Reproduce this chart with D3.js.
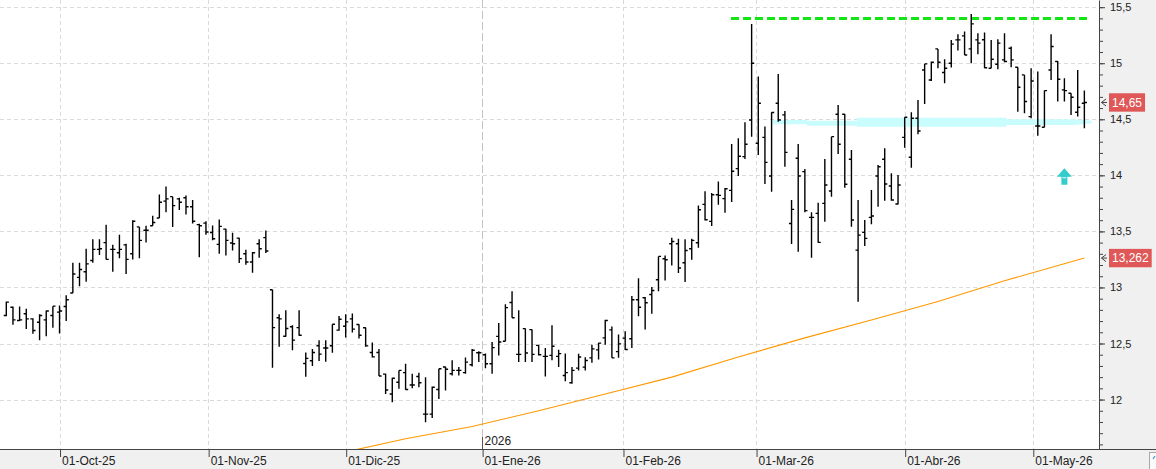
<!DOCTYPE html>
<html lang="es">
<head>
  <meta charset="UTF-8">
  <title>Barras OHLC</title>
  <script src="https://d3js.org/d3.v7.min.js"></script>
  <style>
    body {
      margin: 0;
      background: #fff;
      font-family: "Liberation Sans", Arial, sans-serif;
    }

    svg {
      display: block;
    }

    .axis text {
      fill: #222;
    }
  </style>
</head>
<body>
  <svg id="chart"></svg>
  <script>
    // trading days shown on the chart
    const dates = [
      "2025-09-19", "2025-09-22", "2025-09-23", "2025-09-24", "2025-09-25", "2025-09-26", "2025-09-29", "2025-09-30",
      "2025-10-01", "2025-10-02", "2025-10-03", "2025-10-06", "2025-10-07", "2025-10-08", "2025-10-09", "2025-10-10",
      "2025-10-13", "2025-10-14", "2025-10-15", "2025-10-16", "2025-10-17", "2025-10-20", "2025-10-21", "2025-10-22",
      "2025-10-23", "2025-10-24", "2025-10-27", "2025-10-28", "2025-10-29", "2025-10-30", "2025-10-31",
      "2025-11-03", "2025-11-04", "2025-11-05", "2025-11-06", "2025-11-07", "2025-11-10", "2025-11-11", "2025-11-12",
      "2025-11-13", "2025-11-14", "2025-11-17", "2025-11-18", "2025-11-19", "2025-11-20", "2025-11-21", "2025-11-24",
      "2025-11-25", "2025-11-26", "2025-11-27", "2025-11-28",
      "2025-12-01", "2025-12-02", "2025-12-03", "2025-12-04", "2025-12-05", "2025-12-08", "2025-12-09", "2025-12-10",
      "2025-12-11", "2025-12-12", "2025-12-15", "2025-12-16", "2025-12-17", "2025-12-18", "2025-12-19", "2025-12-22",
      "2025-12-23", "2025-12-24", "2025-12-29", "2025-12-30", "2025-12-31",
      "2026-01-02", "2026-01-05", "2026-01-06", "2026-01-07", "2026-01-08", "2026-01-09", "2026-01-12", "2026-01-13",
      "2026-01-14", "2026-01-15", "2026-01-16", "2026-01-19", "2026-01-20", "2026-01-21", "2026-01-22", "2026-01-23",
      "2026-01-26", "2026-01-27", "2026-01-28", "2026-01-29", "2026-01-30",
      "2026-02-02", "2026-02-03", "2026-02-04", "2026-02-05", "2026-02-06", "2026-02-09", "2026-02-10", "2026-02-11",
      "2026-02-12", "2026-02-13", "2026-02-16", "2026-02-17", "2026-02-18", "2026-02-19", "2026-02-20", "2026-02-23",
      "2026-02-24", "2026-02-25", "2026-02-26", "2026-02-27",
      "2026-03-02", "2026-03-03", "2026-03-04", "2026-03-05", "2026-03-06", "2026-03-09", "2026-03-10", "2026-03-11",
      "2026-03-12", "2026-03-13", "2026-03-16", "2026-03-17", "2026-03-18", "2026-03-19", "2026-03-20", "2026-03-23",
      "2026-03-24", "2026-03-25", "2026-03-26", "2026-03-27", "2026-03-30", "2026-03-31",
      "2026-04-01", "2026-04-02", "2026-04-07", "2026-04-08", "2026-04-09", "2026-04-10", "2026-04-13", "2026-04-14",
      "2026-04-15", "2026-04-16", "2026-04-17", "2026-04-20", "2026-04-21", "2026-04-22", "2026-04-23", "2026-04-24",
      "2026-04-27", "2026-04-28", "2026-04-29", "2026-04-30",
      "2026-05-04", "2026-05-05", "2026-05-06", "2026-05-07", "2026-05-08", "2026-05-11", "2026-05-12", "2026-05-13"
    ];

    const opens = [
      12.75, 12.824, 12.705, 12.765, 12.72, 12.69, 12.711, 12.75, 12.78, 12.83, 12.95, 13.09, 13.14, 13.24, 13.34, 13.40,
      13.34, 13.31, 13.38, 13.30, 13.54, 13.51, 13.55, 13.62, 13.77, 13.81, 13.79, 13.80, 13.72, 13.56, 13.574, 13.49,
      13.384, 13.52, 13.396, 13.44, 13.30, 13.227, 13.39, 13.444, 12.98, 12.73, 12.565, 12.65, 12.642, 12.322, 12.346, 12.48,
      12.46, 12.48, 12.619, 12.654, 12.72, 12.669, 12.64, 12.42, 12.42, 12.227, 12.05, 12.155, 12.24, 12.13, 12.206, 11.87,
      11.87, 12.09, 12.29, 12.23, 12.26, 12.24, 12.31, 12.418, 12.40, 12.32, 12.564, 12.52, 12.866, 12.403, 12.633, 12.624,
      12.483, 12.385, 12.394, 12.385, 12.215, 12.15, 12.28, 12.289, 12.372, 12.443, 12.55, 12.622, 12.428, 12.548, 12.542, 12.89,
      12.908, 12.937, 13.069, 13.256, 13.39, 13.39, 13.22, 13.345, 13.399, 13.741, 13.589, 13.827, 13.792, 13.866, 14.06, 14.167,
      14.494, 14.286, 14.339, 13.994, 14.643, 14.539, 13.571, 14.152, 14.033, 13.625, 13.661, 13.75, 13.86, 14.545, 14.545, 14.143,
      13.333, 13.491, 13.625, 13.994, 14.143, 13.905, 13.744, 14.339, 14.161, 14.509, 14.94, 14.851, 15.128, 14.917, 15.00, 15.208,
      15.244, 15.128, 15.208, 15.21, 14.955, 14.991, 15.03, 15.134, 14.964, 14.896, 14.524, 14.44, 14.429, 14.94, 15.015, 14.762,
      14.732, 14.563, 14.643
    ];

    const highs = [
      12.875, 12.83, 12.83, 12.81, 12.726, 12.76, 12.795, 12.833, 12.84, 12.93, 13.22, 13.22, 13.345, 13.43, 13.43, 13.56,
      13.38, 13.47, 13.39, 13.60, 13.54, 13.55, 13.64, 13.83, 13.90, 13.81, 13.80, 13.82, 13.78, 13.568, 13.59, 13.553,
      13.607, 13.524, 13.488, 13.444, 13.337, 13.316, 13.429, 13.509, 12.98, 12.761, 12.797, 12.663, 12.797, 12.42, 12.45, 12.53,
      12.53, 12.672, 12.746, 12.761, 12.767, 12.672, 12.642, 12.51, 12.45, 12.233, 12.194, 12.26, 12.32, 12.23, 12.24, 12.20,
      12.116, 12.275, 12.296, 12.35, 12.29, 12.376, 12.45, 12.43, 12.41, 12.513, 12.684, 12.85, 12.967, 12.797, 12.633, 12.624,
      12.49, 12.46, 12.663, 12.445, 12.41, 12.29, 12.408, 12.378, 12.49, 12.506, 12.711, 12.652, 12.58, 12.61, 12.923, 13.083,
      12.914, 13.003, 13.277, 13.286, 13.443, 13.435, 13.429, 13.435, 13.732, 13.857, 13.842, 13.946, 13.887, 14.28, 14.33, 14.473,
      15.351, 14.881, 14.435, 14.563, 14.905, 14.574, 13.78, 14.28, 14.057, 13.67, 13.756, 14.146, 14.345, 14.628, 14.548, 14.226,
      13.78, 13.601, 13.869, 14.092, 14.241, 14.018, 14.003, 14.518, 14.563, 14.673, 14.994, 15.015, 15.128, 15.036, 15.208, 15.259,
      15.283, 15.44, 15.268, 15.274, 15.208, 15.214, 15.268, 15.149, 14.964, 14.896, 14.955, 14.926, 14.756, 15.259, 15.021, 14.866,
      14.732, 14.94, 14.756
    ];

    const lows = [
      12.744, 12.667, 12.70, 12.63, 12.586, 12.53, 12.565, 12.64, 12.59, 12.70, 12.95, 13.01, 13.05, 13.22, 13.29, 13.25,
      13.14, 13.26, 13.12, 13.25, 13.26, 13.40, 13.55, 13.62, 13.67, 13.54, 13.69, 13.65, 13.57, 13.27, 13.47, 13.42,
      13.30, 13.286, 13.33, 13.218, 13.203, 13.132, 13.266, 13.307, 12.284, 12.47, 12.56, 12.44, 12.57, 12.203, 12.30, 12.343,
      12.337, 12.417, 12.613, 12.553, 12.598, 12.545, 12.47, 12.376, 12.21, 12.049, 11.976, 12.096, 12.087, 12.10, 12.11, 11.797,
      11.836, 12.006, 12.08, 12.215, 12.215, 12.23, 12.296, 12.334, 12.28, 12.23, 12.394, 12.52, 12.73, 12.334, 12.334, 12.334,
      12.394, 12.206, 12.35, 12.29, 12.164, 12.14, 12.26, 12.26, 12.328, 12.357, 12.49, 12.372, 12.372, 12.443, 12.461, 12.744,
      12.625, 12.765, 12.967, 13.063, 13.196, 13.128, 13.048, 13.247, 13.354, 13.598, 13.548, 13.738, 13.667, 13.762, 13.994, 14.146,
      14.345, 14.182, 13.923, 13.854, 14.479, 14.077, 13.387, 13.318, 13.67, 13.265, 13.399, 13.586, 13.81, 14.19, 13.89, 13.542,
      12.872, 13.369, 13.563, 13.72, 13.774, 13.774, 13.741, 14.247, 14.068, 14.366, 14.637, 14.842, 14.955, 14.821, 14.961, 15.113,
      15.074, 15.00, 15.08, 14.955, 14.955, 14.946, 15.009, 14.964, 14.568, 14.554, 14.509, 14.354, 14.429, 14.851, 14.658, 14.658,
      14.539, 14.524, 14.42
    ];

    const closes = [
      12.869, 12.711, 12.711, 12.72, 12.616, 12.75, 12.79, 12.833, 12.79, 12.89, 13.12, 13.16, 13.21, 13.34, 13.345, 13.25,
      13.34, 13.34, 13.25, 13.59, 13.42, 13.51, 13.58, 13.76, 13.79, 13.73, 13.76, 13.72, 13.59, 13.55, 13.494, 13.435,
      13.545, 13.42, 13.39, 13.257, 13.227, 13.31, 13.345, 13.325, 12.642, 12.72, 12.634, 12.53, 12.574, 12.367, 12.42, 12.405,
      12.46, 12.672, 12.717, 12.693, 12.628, 12.574, 12.479, 12.381, 12.21, 12.085, 12.19, 12.26, 12.09, 12.13, 12.15, 11.87,
      12.11, 12.275, 12.27, 12.26, 12.26, 12.334, 12.44, 12.418, 12.32, 12.463, 12.513, 12.82, 12.73, 12.403, 12.415, 12.403,
      12.40, 12.385, 12.475, 12.41, 12.24, 12.26, 12.38, 12.348, 12.452, 12.503, 12.705, 12.372, 12.497, 12.446, 12.89, 12.824,
      12.863, 12.973, 13.277, 13.247, 13.41, 13.173, 13.33, 13.42, 13.693, 13.604, 13.827, 13.821, 13.881, 14.036, 14.17, 14.277,
      15.00, 14.643, 14.116, 14.56, 14.494, 14.205, 13.696, 13.994, 13.685, 13.625, 13.402, 13.914, 14.345, 14.277, 13.92, 13.601,
      13.467, 13.438, 13.637, 14.077, 13.923, 13.78, 13.914, 14.518, 14.509, 14.396, 14.994, 15.009, 15.009, 14.955, 15.17, 15.208,
      15.074, 15.351, 15.179, 14.96, 15.036, 15.179, 15.015, 15.03, 14.786, 14.658, 14.842, 14.44, 14.756, 15.149, 14.857, 14.756,
      14.696, 14.607, 14.65
    ];

    // moving average (orange), read at a few dates
    const maDates = [
      "2025-11-28", "2025-12-12", "2025-12-30", "2026-01-14", "2026-01-28", "2026-02-11",
      "2026-02-25", "2026-03-11", "2026-03-25", "2026-04-10", "2026-04-24", "2026-05-13"
    ];
    const maValues = [11.52, 11.65, 11.76, 11.90, 12.05, 12.20, 12.38, 12.55, 12.71, 12.875, 13.06, 13.262];

    // support zone (cyan) drawn by hand: bar position, top, bottom
    const zonePos = [115.2, 120.3, 120.3, 127.8, 127.8, 150.3, 150.3, 160.5, 163.1];
    const zoneTop = [14.494, 14.494, 14.488, 14.488, 14.514, 14.514, 14.50, 14.50, 14.486];
    const zoneBottom = [14.456, 14.456, 14.443, 14.443, 14.434, 14.434, 14.448, 14.448, 14.464];

    // resistance (green dashed)
    const resistanceLevel = 15.40;
    const resistanceSpan = [108.9, 162.6];

    // signal arrow
    const arrowPos = 159;
    const arrowValue = 14.063;

    const yTicks = [12, 12.5, 13, 13.5, 14, 14.5, 15, 15.5];
    const monthDates = ["2025-10-01", "2025-11-01", "2025-12-01", "2026-01-01", "2026-02-01", "2026-03-01", "2026-04-01", "2026-05-01"];
    const monthLabels = ["01-Oct-25", "01-Nov-25", "01-Dic-25", "01-Ene-26", "01-Feb-26", "01-Mar-26", "01-Abr-26", "01-May-26"];
    const yearDate = "2026-01-01";
    const yearLabel = "2026";

    const width = 1156;
    const height = 469;
    const plotW = 1099;
    const plotH = 449;

    const parse = d3.utcParse("%Y-%m-%d");
    const times = dates.map(parse);
    const indexOf = new Map(dates.map((d, i) => [d, i]));

    // calendar date -> (fractional) bar position
    function datePos(s) {
      const t = parse(s);
      const i = d3.bisectRight(times, t) - 1;
      if (+times[i] === +t || i >= times.length - 1) return i;
      return i + (t - times[i]) / (times[i + 1] - times[i]);
    }

    const fmt = v => String(v).replace(".", ",");

    const x = d3.scaleLinear().domain([-0.947, 164.2]).range([0, plotW]);
    const y = d3.scaleLinear().domain([11.559, 15.564]).range([plotH, 0]);

    const svg = d3.select("#chart").attr("width", width).attr("height", height);

    // panels
    svg.append("rect").attr("width", width).attr("height", height).attr("fill", "#fff");
    svg.append("rect").attr("x", plotW).attr("width", width - plotW).attr("height", height).attr("fill", "#f0f0f0");
    svg.append("rect").attr("y", plotH).attr("width", width).attr("height", height - plotH).attr("fill", "#f0f0f0");

    svg.append("clipPath").attr("id", "clip")
      .append("rect").attr("width", plotW).attr("height", plotH);

    const plot = svg.append("g").attr("clip-path", "url(#clip)");

    // grid
    plot.selectAll(".hgrid").data(yTicks).join("line")
      .attr("class", "hgrid")
      .attr("x1", 0).attr("x2", plotW)
      .attr("y1", d => Math.round(y(d)) + 0.5).attr("y2", d => Math.round(y(d)) + 0.5)
      .attr("stroke", "#dadada").attr("stroke-dasharray", "4,3");

    const monthPos = monthDates.map(datePos);
    plot.selectAll(".vgrid").data(monthDates).join("line")
      .attr("class", "vgrid")
      .attr("x1", d => Math.round(x(datePos(d))) + 0.5).attr("x2", d => Math.round(x(datePos(d))) + 0.5)
      .attr("y1", 0).attr("y2", plotH)
      .attr("stroke", d => d === yearDate ? "#c4c4c4" : "#dadada")
      .attr("stroke-dasharray", d => d === yearDate ? "8,3" : "4,3");

    // support zone
    const zone = zonePos.map((p, k) => ({ p, t: zoneTop[k], b: zoneBottom[k] }));
    plot.append("path")
      .datum(zone)
      .attr("fill", "#c9fcfc")
      .attr("d", d3.area().x(d => x(d.p)).y0(d => y(d.b)).y1(d => y(d.t)));

    // moving average
    const ma = maDates.map((d, k) => ({ i: indexOf.get(d), v: maValues[k] }));
    plot.append("path")
      .datum(ma)
      .attr("fill", "none")
      .attr("stroke", "#ff9800")
      .attr("stroke-width", 1.1)
      .attr("d", d3.line().x(d => x(d.i)).y(d => y(d.v)));

    // resistance
    plot.append("line")
      .attr("x1", x(resistanceSpan[0])).attr("x2", x(resistanceSpan[1]))
      .attr("y1", y(resistanceLevel)).attr("y2", y(resistanceLevel))
      .attr("stroke", "#14e614").attr("stroke-width", 3)
      .attr("stroke-dasharray", "8,4");

    // OHLC bars
    const bars = dates.map((d, i) => ({ i, o: opens[i], h: highs[i], l: lows[i], c: closes[i] }));
    plot.selectAll(".bar").data(bars).join("path")
      .attr("class", "bar")
      .attr("fill", "none")
      .attr("stroke", "#000")
      .attr("stroke-width", 1.4)
      .attr("d", d => {
        const cx = x(d.i);
        return `M${cx},${y(d.h)}V${y(d.l)}M${cx - 2.6},${y(d.o)}H${cx}M${cx},${y(d.c)}H${cx + 2.6}`;
      });

    // arrow
    const ax = x(arrowPos);
    const ay = y(arrowValue);
    plot.append("path")
      .attr("fill", "#33cccc")
      .attr("d", `M${ax},${ay}L${ax + 7.5},${ay + 8.5}H${ax + 3}V${ay + 16.5}H${ax - 3}V${ay + 8.5}H${ax - 7.5}Z`);
    plot.append("line")
      .attr("x1", ax - 2).attr("x2", ax + 2)
      .attr("y1", ay + 9.5).attr("y2", ay + 9.5)
      .attr("stroke", "#e8ffff").attr("stroke-width", 1);

    // right axis
    const yMinor = d3.range(116, 156).map(v => v / 10);
    svg.append("g")
      .attr("transform", `translate(${plotW},0)`)
      .call(d3.axisRight(y).tickValues(yMinor).tickSize(4).tickSizeOuter(0).tickFormat(""))
      .call(g => g.selectAll("line").attr("stroke", "#444"))
      .call(g => g.select(".domain").attr("stroke", "#444"));

    svg.append("g")
      .attr("class", "axis")
      .attr("transform", `translate(${plotW},0)`)
      .call(d3.axisRight(y).tickValues(yTicks).tickSize(6).tickPadding(5).tickSizeOuter(0).tickFormat(fmt))
      .call(g => g.select(".domain").remove())
      .call(g => g.selectAll("line").attr("stroke", "#444"))
      .call(g => g.selectAll("text").attr("font-size", 11).attr("font-family", "Liberation Sans, Arial, sans-serif"));

    // bottom axis
    svg.append("g")
      .attr("class", "axis")
      .attr("transform", `translate(0,${plotH})`)
      .call(d3.axisBottom(x).tickValues(monthPos).tickSize(8).tickSizeOuter(0).tickFormat((d, k) => monthLabels[k]))
      .call(g => g.select(".domain").remove())
      .call(g => g.selectAll("line").attr("stroke", "#444").attr("transform", "translate(0.5,0)"))
      .call(g => g.selectAll("text")
        .attr("text-anchor", "start")
        .attr("x", 2).attr("y", 7)
        .attr("font-size", 12)
        .attr("font-family", "Liberation Sans, Arial, sans-serif"));

    svg.append("line")
      .attr("x1", 0).attr("x2", width)
      .attr("y1", plotH + 0.5).attr("y2", plotH + 0.5)
      .attr("stroke", "#444");

    // year marker
    const yx = Math.round(x(datePos(yearDate))) + 0.5;
    svg.append("line")
      .attr("x1", yx).attr("x2", yx)
      .attr("y1", plotH - 12).attr("y2", plotH)
      .attr("stroke", "#555");
    svg.append("text")
      .attr("x", yx + 2).attr("y", plotH - 4)
      .attr("font-size", 12)
      .attr("fill", "#222")
      .text(yearLabel);

    // last value tags
    const tags = [
      { v: closes[closes.length - 1], label: fmt(closes[closes.length - 1]) },
      { v: maValues[maValues.length - 1], label: fmt(maValues[maValues.length - 1]) }
    ];
    tags.forEach(t => {
      const ty = y(t.v);
      const g = svg.append("g");
      const txt = g.append("text")
        .attr("x", plotW + 13).attr("y", ty)
        .attr("dy", "0.36em")
        .attr("font-size", 12)
        .attr("fill", "#fff")
        .text(t.label);
      const w = txt.node().getComputedTextLength();
      g.insert("rect", "text")
        .attr("x", plotW + 10).attr("y", ty - 9.2)
        .attr("width", w + 6).attr("height", 18.4)
        .attr("fill", "#e05757");
      g.append("path")
        .attr("fill", "none").attr("stroke", "#444").attr("stroke-width", 1)
        .attr("d", `M${plotW + 7},${ty - 3.5}L${plotW + 2.5},${ty}L${plotW + 7},${ty + 3.5}M${plotW + 2.5},${ty}H${plotW + 8}`);
    });

    // corner button
    svg.append("rect")
      .attr("x", width - 6.5).attr("y", plotH + 3.5)
      .attr("width", 12).attr("height", 20)
      .attr("fill", "#fafafa").attr("stroke", "#a8a8a8");
    svg.append("path")
      .attr("fill", "none").attr("stroke", "#3a8ee6").attr("stroke-width", 1.2)
      .attr("d", `M${width - 3},${plotH + 10}L${width - 1},${plotH + 7}`);
  </script>
</body>
</html>
